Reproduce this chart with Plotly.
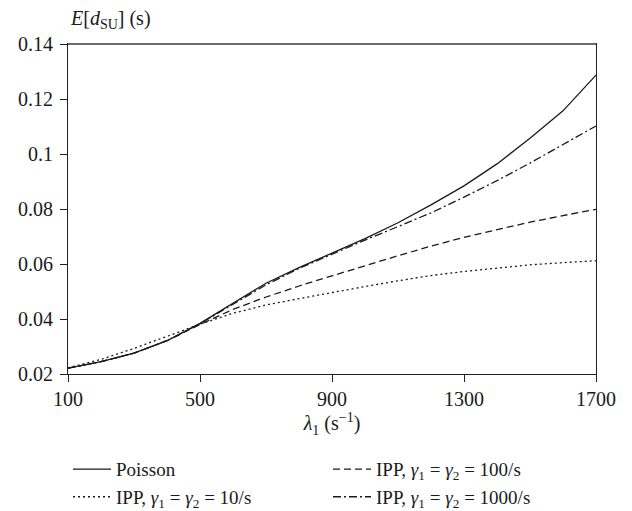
import plotly.graph_objects as go

# Data
lam = [100, 200, 300, 400, 500, 600, 700, 800, 900, 1000, 1100, 1200, 1300, 1400, 1500, 1600, 1700]
poisson = [0.0221, 0.0245, 0.0276, 0.0321, 0.0384, 0.0457, 0.0530, 0.0587, 0.0640, 0.0692, 0.0750,
           0.0815, 0.0884, 0.0964, 0.1057, 0.1157, 0.1287]
ipp_100 = [0.0221, 0.0245, 0.0276, 0.0321, 0.0380, 0.0435, 0.0480, 0.0520, 0.0557, 0.0594, 0.0630,
           0.0665, 0.0697, 0.0725, 0.0752, 0.0776, 0.0799]
ipp_10 = [0.0222, 0.0253, 0.0293, 0.0338, 0.0381, 0.0421, 0.0451, 0.0474, 0.0497, 0.0518, 0.0539,
          0.0558, 0.0573, 0.0586, 0.0597, 0.0605, 0.0612]
ipp_1000 = [0.0221, 0.0245, 0.0276, 0.0321, 0.0383, 0.0455, 0.0524, 0.0584, 0.0636, 0.0687, 0.0736,
            0.0786, 0.0843, 0.0903, 0.0967, 0.1033, 0.1102]

x_ticks = [100, 500, 900, 1300, 1700]
y_ticks = [0.02, 0.04, 0.06, 0.08, 0.10, 0.12, 0.14]
y_ticktext = ["0.02", "0.04", "0.06", "0.08", "0.1", "0.12", "0.14"]

names = [
    "Poisson",
    "IPP, <i>γ</i><sub>1</sub> = <i>γ</i><sub>2</sub> = 100/s",
    "IPP, <i>γ</i><sub>1</sub> = <i>γ</i><sub>2</sub> = 10/s",
    "IPP, <i>γ</i><sub>1</sub> = <i>γ</i><sub>2</sub> = 1000/s",
]
series = [poisson, ipp_100, ipp_10, ipp_1000]
dashes = ["solid", "7px,4px", "2px,3px", "8px,3px,2px,3px"]

FONT = "Liberation Serif, Times New Roman, serif"
fig = go.Figure()
for nm, ys, d in zip(names, series, dashes):
    fig.add_trace(go.Scatter(x=lam, y=ys, mode="lines", name=nm,
                             line=dict(color="#1a1a1a", width=1.3, dash=d)))

axis_common = dict(showgrid=False, zeroline=False, showline=True, linecolor="#222222",
                   linewidth=1.2, mirror=True, ticks="outside", ticklen=7, tickwidth=1,
                   tickcolor="#222222", automargin=False,
                   tickfont=dict(family=FONT, size=20, color="#1a1a1a"))

fig.update_layout(
    width=632, height=511,
    margin=dict(l=68, r=36, t=44, b=137, autoexpand=False),
    paper_bgcolor="white", plot_bgcolor="white",
    font=dict(family=FONT, size=20, color="#1a1a1a"),
    xaxis=dict(range=[100, 1700], tickvals=x_ticks,
               title=dict(text="<i>λ</i><sub>1</sub> (s<sup>−1</sup>)", font=dict(family=FONT, size=20),
                          standoff=6),
               **axis_common),
    yaxis=dict(range=[0.02, 0.14], tickvals=y_ticks, ticktext=y_ticktext,
               ticklabelstandoff=3, **axis_common),
    showlegend=True,
    legend=dict(orientation="h", x=0, xanchor="left", y=0.119, yref="container",
                yanchor="top",
                entrywidth=207, entrywidthmode="pixels", itemwidth=38,
                font=dict(family=FONT, size=19, color="#1a1a1a"),
                bgcolor="rgba(0,0,0,0)", traceorder="normal"),
    annotations=[dict(text="<i>E</i>[<i>d</i><sub>SU</sub>] (s)", xref="paper", yref="paper",
                      x=0, y=1, xanchor="left", yanchor="bottom", yshift=10,
                      showarrow=False,
                      font=dict(family=FONT, size=20, color="#1a1a1a"))],
    shapes=[dict(type="line", xref="paper", yref="paper", x0=0, x1=1, y0=1, y1=1,
                 line=dict(color="#6b6b6b", width=2))],
)

fig.write_html("out.html", config={"displayModeBar": False},
               post_script="document.body.style.margin='0';")
